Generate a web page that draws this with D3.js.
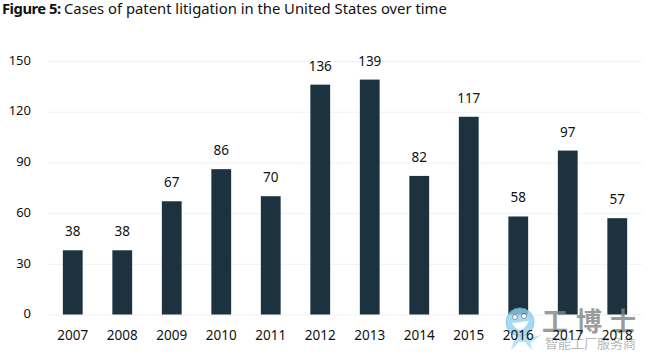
<!DOCTYPE html>
<html>
<head>
<meta charset="utf-8">
<script src="https://cdn.jsdelivr.net/npm/d3@7"></script>
<style>
    html, body { margin: 0; padding: 0; background: #fff; }
    svg { display: block; }
    text { font-family: "Noto Sans", "Open Sans", sans-serif; fill: #111; }
</style>
</head>
<body>
<div id="chart"></div>
<script>
const years = [2007, 2008, 2009, 2010, 2011, 2012, 2013, 2014, 2015, 2016, 2017, 2018];
const cases = [38, 38, 67, 86, 70, 136, 139, 82, 117, 58, 97, 57];
const yTicks = [0, 30, 60, 90, 120, 150];

const width = 648, height = 360;
const margins = {top: 61, right: 6, bottom: 45.5, left: 48};

const svg = d3.select('#chart').append('svg')
    .attr('width', width)
    .attr('height', height)
    .attr('viewBox', `0 0 ${width} ${height}`);

const xScale = d3.scaleBand()
    .domain(years)
    .range([margins.left, width - margins.right])
    .paddingInner(0.6)
    .paddingOuter(0.3);

const yScale = d3.scaleLinear()
    .domain([0, 150])
    .range([height - margins.bottom, margins.top]);

// Titre
const title = svg.append('text')
    .attr('x', 2)
    .attr('y', 14)
    .style('font-size', '14.8px');
title.append('tspan').style('font-weight', 700).style('letter-spacing', '-0.5px').text('Figure 5: ');
title.append('tspan').text('Cases of patent litigation in the United States over time');

// Axe Y et grille
const yAxis = svg.append('g')
    .attr('transform', `translate(${margins.left} 0)`)
    .call(d3.axisLeft(yScale).tickValues(yTicks).tickSize(-(width - margins.left - margins.right)).tickPadding(17));
yAxis.select('.domain').remove();
yAxis.selectAll('line').attr('stroke', '#f0f1f1');
yAxis.selectAll('text').style('font-size', '13px').attr('dy', '0.25em');

// Barres
svg.append('g').selectAll('rect')
    .data(years)
    .enter()
    .append('rect')
    .attr('x', d => xScale(d))
    .attr('y', (d, i) => yScale(cases[i]))
    .attr('width', xScale.bandwidth())
    .attr('height', (d, i) => yScale(0) - yScale(cases[i]))
    .attr('fill', '#1c323f');

// Valeurs
svg.append('g').selectAll('text')
    .data(years)
    .enter()
    .append('text')
    .attr('x', d => xScale(d) + xScale.bandwidth() / 2)
    .attr('y', (d, i) => yScale(cases[i]) - 14)
    .attr('text-anchor', 'middle')
    .style('font-size', '13.5px')
    .text((d, i) => cases[i]);

// Filigrane
const mark = svg.append('g').attr('opacity', 0.8);
mark.append('path')
    .attr('d', 'M511 350 L517 332 L528 332 L532 350 L525 342 L519 342 Z M528 338 L541 335 L530 343 Z')
    .attr('fill', '#a5dcf2');
mark.append('circle').attr('cx', 520).attr('cy', 322).attr('r', 14).attr('fill', '#8fd2ee').attr('stroke', '#6fc0e4');
mark.append('path').attr('d', 'M512 323 Q520 338 529 321 Z').attr('fill', '#fff');
mark.append('circle').attr('cx', 515).attr('cy', 317).attr('r', 2.5).attr('fill', '#fff').attr('stroke', '#678');
mark.append('circle').attr('cx', 524).attr('cy', 316).attr('r', 2.5).attr('fill', '#fff').attr('stroke', '#678');
mark.append('text')
    .attr('x', 542).attr('y', 331)
    .style('font-family', '"Noto Sans CJK SC"')
    .style('font-size', '26px')
    .style('font-weight', 700)
    .style('letter-spacing', '8px')
    .style('fill', '#7f8484')
    .text('工博士');
mark.append('text')
    .attr('x', 545).attr('y', 348)
    .style('font-family', '"Noto Sans CJK SC"')
    .style('font-size', '13px')
    .style('fill', '#a5a8a8')
    .text('智能工厂服务商');

// Axe X, par-dessus le filigrane
const xAxis = svg.append('g')
    .attr('transform', `translate(0 ${height - margins.bottom})`)
    .call(d3.axisBottom(xScale).tickSize(0).tickPadding(16));
xAxis.select('.domain').remove();
xAxis.selectAll('text').style('font-size', '13.5px');
</script>
</body>
</html>
